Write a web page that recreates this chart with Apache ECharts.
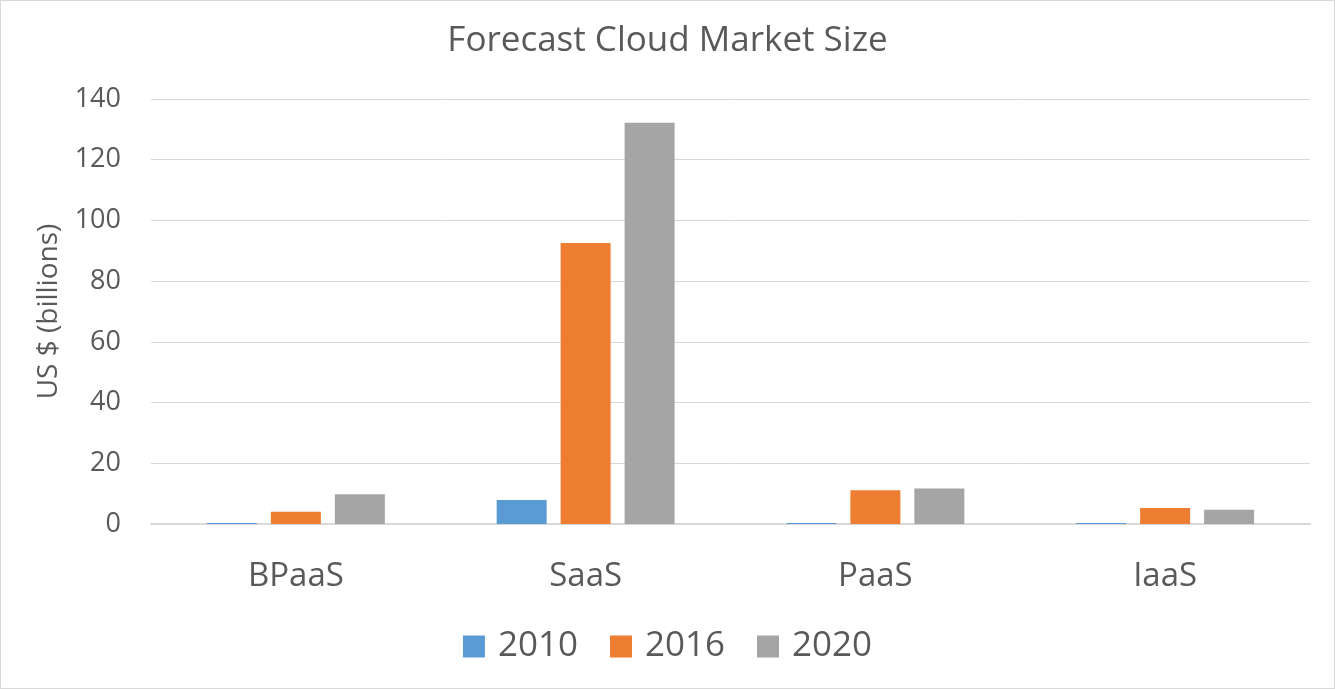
<!DOCTYPE html>
<html><head><meta charset="utf-8">
<script src="https://cdn.jsdelivr.net/npm/echarts@6/dist/echarts.min.js"></script>
<style>html,body{margin:0;padding:0;background:#fff}#c{width:1335px;height:689px;box-sizing:border-box;border:1px solid #d9d9d9}</style>
</head><body><div id="c"></div>
<script>
const categories = ['BPaaS','SaaS','PaaS','IaaS'];
const seriesNames = ['2010','2016','2020'];
const v2010 = [0.3, 7.9, 0.3, 0.3];
const v2016 = [4.0, 92.6, 11.1, 5.3];
const v2020 = [9.8, 132.2, 11.7, 4.7];
const colors = ['#5B9BD5','#ED7D31','#A5A5A5'];
const font = 'Open Sans';
const chart = echarts.init(document.getElementById('c'));
const data = [v2010, v2016, v2020];
chart.setOption({
  animation:false,
  title:{text:'Forecast Cloud Market Size',left:'center',top:18,textStyle:{fontFamily:font,fontSize:35,fontWeight:'normal',color:'#595959'}},
  legend:{bottom:19,itemWidth:22,itemHeight:22,itemGap:32,icon:'rect',textStyle:{fontFamily:font,fontSize:35,color:'#595959',padding:[0,0,0,8]},data:seriesNames},
  grid:{left:150,right:24,top:98,bottom:164,containLabel:false},
  xAxis:{type:'category',data:categories,axisLine:{lineStyle:{color:'#d9d9d9',width:2}},axisTick:{show:false},
    axisLabel:{fontFamily:font,fontSize:33,color:'#595959',margin:36}},
  yAxis:{type:'value',min:0,max:140,interval:20,name:'US $ (billions)',nameLocation:'middle',nameGap:88,
    nameTextStyle:{fontFamily:font,fontSize:28,color:'#595959'},
    axisLabel:{fontFamily:font,fontSize:27,color:'#595959',margin:30},
    splitLine:{lineStyle:{color:'#d9d9d9',width:1}},axisLine:{show:false},axisTick:{show:false}},
  series: seriesNames.map((n,i)=>({name:n,type:'bar',data:data[i],barGap:'28%',barCategoryGap:'38.6%',
    itemStyle:{color:colors[i]}}))
});
</script></body></html>
